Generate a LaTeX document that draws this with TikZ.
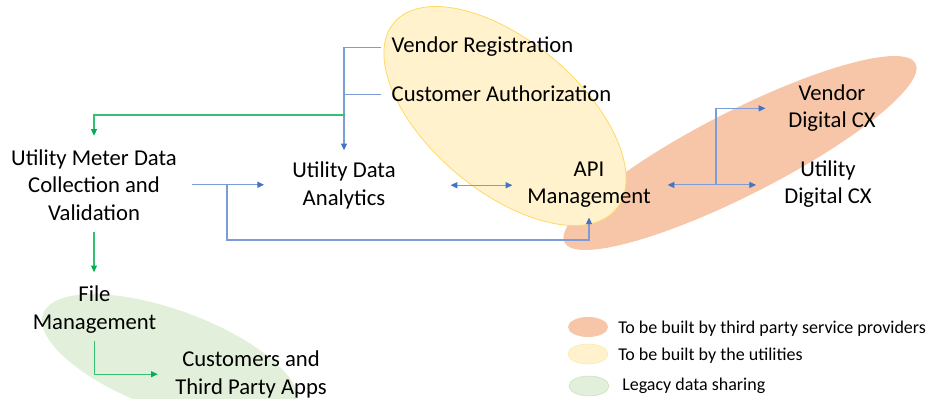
\documentclass[tikz,border=0pt]{standalone}
\usepackage{fontspec}
\setmainfont{Carlito}
\usetikzlibrary{arrows.meta, positioning, shapes.geometric, calc}
\definecolor{zoneorange}{HTML}{F7C6A8}
\definecolor{zoneyellow}{HTML}{FFF2CC}
\definecolor{edgeyellow}{HTML}{FFD966}
\definecolor{zonegreen}{HTML}{E2EFDA}
\definecolor{edgegreen}{HTML}{C9E0BC}
\definecolor{lineblue}{HTML}{4472C4}
\definecolor{linegreen}{HTML}{00B050}

\begin{document}
\begin{tikzpicture}[x=0.75pt, y=-0.75pt,
    font=\fontsize{17}{20.6}\selectfont,
    box/.style={align=center, inner sep=1pt, anchor=base},
    bline/.style={draw=lineblue!70, line width=0.8pt,
        >={Triangle[length=5pt, width=4.5pt, color=lineblue]}},
    gline/.style={draw=linegreen!80, line width=0.8pt,
        >={Triangle[length=5pt, width=4.5pt, color=linegreen]}},
    swatch/.style={ellipse, minimum width=30pt, minimum height=15pt, inner sep=0pt},
    legtext/.style={font=\fontsize{13.5}{16}\selectfont, anchor=base west, inner sep=0pt}]
    \useasboundingbox (0,0) rectangle (931,399);

    % zones
    \fill[zoneorange, rotate around={27:(740,153)}] (740,153) ellipse [x radius=197, y radius=42];
    \filldraw[fill=zoneyellow, draw=edgeyellow, line width=0.6pt, rotate around={-40:(505,116)}]
        (505,116) ellipse [x radius=145, y radius=75];
    \begin{scope}
        \clip (0,0) rectangle (931,399);
        \fill[zonegreen, rotate around={-20:(170,360)}] (170,360) ellipse [x radius=135, y radius=50];
    \end{scope}

    % nodes, placed at the baseline of their last line
    \node[box] (vreg) at (482.5,53) {Vendor Registration};
    \node[box] (cauth) at (501.5,102) {Customer Authorization};
    \node[box] (meter) at (94,220) {Utility Meter Data\\Collection and\\Validation};
    \node[box] (uda) at (344,205) {Utility Data\\Analytics};
    \node[box] (api) at (589,204) {API\\Management};
    \node[box] (vcx) at (832,128) {Vendor\\Digital CX};
    \node[box] (ucx) at (828,204) {Utility\\Digital CX};
    \node[box] (file) at (94.5,329) {File\\Management};
    \node[box] (cust) at (251,394) {Customers and\\Third Party Apps};

    \coordinate (jg) at (345,115);
    \coordinate (jb) at (227,185);
    \coordinate (jl) at (227,240);
    \coordinate (jr) at (716,185);

    \draw[bline, ->, shorten <=6.5pt, shorten >=7.5pt] (vreg.west) -| (uda.north);
    \draw[bline, shorten <=6.5pt] (cauth.west) -- (cauth.west -| uda.north);
    \draw[gline, ->, shorten >=9pt] (jg) -| (meter.north);
    \draw[bline, ->, shorten <=10pt, shorten >=20pt] (meter.east) -- (meter.east -| uda.west);
    \draw[bline, ->, shorten >=6pt] (jb) -- (jl) -| (api.south);
    \draw[bline, <->, shorten <=40pt, shorten >=10pt] (uda.east) -- (uda.east -| api.west);
    \draw[bline, <->, shorten <=11.5pt, shorten >=20pt] (api.east) -- (api.east -| ucx.west);
    \draw[bline, ->, shorten >=16pt] (jr) |- (vcx.west);
    \draw[gline, ->, shorten <=8pt, shorten >=9pt] (meter.south) -- (meter.south |- file.north);
    \draw[gline, ->, shorten <=5pt, shorten >=12pt] (file.south) |- (cust.west);

    % legend
    \node[swatch, fill=zoneorange] (lgo) at (588,327) {};
    \node[swatch, fill=zoneyellow, draw=edgeyellow!60] (lgy) at (588,354) {};
    \node[swatch, fill=zonegreen, draw=edgegreen] (lgg) at (589,386) {};
    \node[legtext] (lto) at (618,333) {To be built by third party service providers};
    \node[legtext] (lty) at (618,360) {To be built by the utilities};
    \node[legtext] (ltg) at (622,390) {Legacy data sharing};
\end{tikzpicture}
\end{document}
